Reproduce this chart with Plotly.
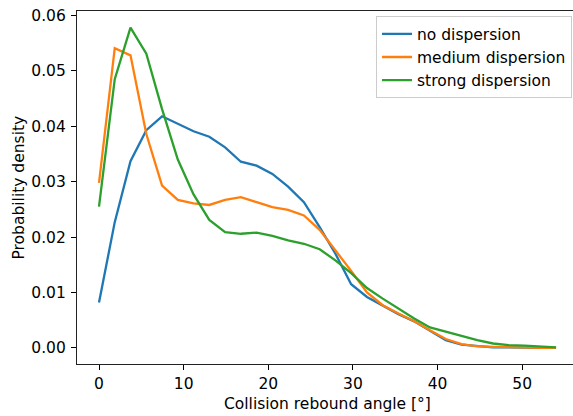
import plotly.graph_objects as go

angles = [0.00, 1.86, 3.72, 5.59, 7.45, 9.31, 11.17, 13.03, 14.90, 16.76,
          18.62, 20.48, 22.34, 24.21, 26.07, 27.93, 29.79, 31.66, 33.52, 35.38,
          37.24, 39.10, 40.97, 42.83, 44.69, 46.55, 48.41, 50.28, 52.14, 54.00]

no_dispersion = [0.0082, 0.0227, 0.0337, 0.0393, 0.0418, 0.0405, 0.0391, 0.0381, 0.0362, 0.0336,
                 0.0329, 0.0314, 0.0291, 0.0263, 0.0218, 0.0170, 0.0115, 0.0092, 0.0076, 0.0061,
                 0.0048, 0.0031, 0.0014, 0.0006, 0.0003, 0.0001, 0.0001, 0.0000, 0.0000, 0.0000]

medium_dispersion = [0.0298, 0.0541, 0.0528, 0.0386, 0.0293, 0.0267, 0.0261, 0.0258, 0.0267, 0.0272,
                     0.0263, 0.0254, 0.0249, 0.0239, 0.0213, 0.0177, 0.0139, 0.0100, 0.0077, 0.0062,
                     0.0048, 0.0032, 0.0016, 0.0007, 0.0003, 0.0002, 0.0001, 0.0001, 0.0000, 0.0000]

strong_dispersion = [0.0255, 0.0485, 0.0578, 0.0531, 0.0431, 0.0340, 0.0277, 0.0231, 0.0209, 0.0206,
                     0.0208, 0.0202, 0.0194, 0.0188, 0.0178, 0.0158, 0.0135, 0.0108, 0.0089, 0.0071,
                     0.0053, 0.0037, 0.0029, 0.0021, 0.0014, 0.0008, 0.0005, 0.0004, 0.0002, 0.0001]

series_names = ["no dispersion", "medium dispersion", "strong dispersion"]
series_colors = ["#1f77b4", "#ff7f0e", "#2ca02c"]

x_ticks = [0, 10, 20, 30, 40, 50]
y_ticks = [0.00, 0.01, 0.02, 0.03, 0.04, 0.05, 0.06]
y_tick_labels = ["0.00", "0.01", "0.02", "0.03", "0.04", "0.05", "0.06"]

FONT = "DejaVu Sans"
FS = 15.5
fig = go.Figure()
for name, vals, col in zip(series_names, [no_dispersion, medium_dispersion, strong_dispersion], series_colors):
    fig.add_trace(go.Scatter(x=angles, y=vals, mode="lines", name=name,
                             line=dict(color=col, width=2.3)))

axis_common = dict(showgrid=False, zeroline=False, ticks="outside", ticklen=5,
                   tickwidth=1.2, tickcolor="#000", linecolor="#222", linewidth=1.2,
                   showline=True, tickfont=dict(family=FONT, size=FS, color="#000"))

fig.update_xaxes(range=[-2.6, 56.0], tickvals=x_ticks, mirror=True, **axis_common)
fig.update_yaxes(range=[-0.0029, 0.0608], tickvals=y_ticks, ticktext=y_tick_labels,
                 mirror=False, ticklabelstandoff=2, **axis_common)

fig.add_annotation(text="Collision rebound angle [°]", x=27, xref="x", y=0, yref="paper",
                   yshift=-40, yanchor="middle", showarrow=False,
                   font=dict(family=FONT, size=FS, color="#000"))
fig.add_annotation(text="Probability density", x=0, xref="paper", xshift=-59, y=0.5, yref="paper",
                   textangle=-90, xanchor="center", yanchor="middle", showarrow=False,
                   font=dict(family=FONT, size=FS, color="#000"))

fig.update_layout(
    width=573, height=416,
    margin=dict(l=77, r=0, t=11, b=52),
    plot_bgcolor="white", paper_bgcolor="white",
    font=dict(family=FONT, size=FS, color="#000"),
    legend=dict(x=0.998, y=0.985, xanchor="right", yanchor="top",
                bgcolor="rgba(255,255,255,0.8)", bordercolor="#cccccc", borderwidth=1,
                font=dict(family=FONT, size=FS, color="#000"), tracegroupgap=0,
                itemwidth=30),
    showlegend=True,
)

fig.write_html("out.html")
